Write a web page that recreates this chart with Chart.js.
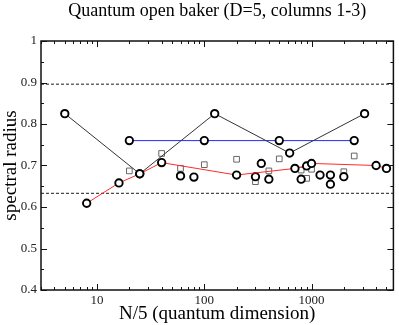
<!DOCTYPE html>
<html lang="en">
<head>
    <meta charset="UTF-8">
    <title>Quantum open baker</title>
    <script src="https://cdn.jsdelivr.net/npm/chart.js"></script>
    <style>
        html, body { margin: 0; padding: 0; background: #fff; }
        .wrap { width: 399px; height: 325px; }
    </style>
</head>
<body>
<div class="wrap">
    <canvas id="chart" width="399" height="325"></canvas>
</div>
<script>
    // N/5 values and spectral radius
    const blackX = [5, 25, 125, 625, 3125];
    const blackY = [0.825, 0.68, 0.825, 0.73, 0.825];

    const blueX = [20, 100, 500, 2500];
    const blueY = [0.76, 0.76, 0.76, 0.76];

    const redX = [8, 16, 25, 40, 200, 700, 900, 1000, 4000, 5000];
    const redY = [0.609, 0.658, 0.68, 0.707, 0.677, 0.693, 0.699, 0.705, 0.70, 0.693];

    const dotX = [60, 80, 300, 340, 400, 800, 1200, 1500, 1500, 2000];
    const dotY = [0.675, 0.672, 0.673, 0.705, 0.667, 0.667, 0.677, 0.677, 0.655, 0.673];

    const squareX = [20, 40, 60, 100, 200, 300, 400, 500, 800, 900, 1000, 2000, 2500];
    const squareY = [0.687, 0.729, 0.693, 0.702, 0.715, 0.661, 0.687, 0.716, 0.689, 0.669, 0.691, 0.685, 0.723];

    const dashLevels = [0.896, 0.633];
    const xRange = [3, 5800];
    const yRange = [0.4, 1];
    const xLabels = [10, 100, 1000];

    const serif = "'Liberation Serif', 'DejaVu Serif', serif";

    function pts(xs, ys) {
        return xs.map((x, i) => ({ x: x, y: ys[i] }));
    }

    const circle = {
        pointStyle: 'circle',
        pointRadius: 3.7,
        pointBorderWidth: 1.9,
        pointBorderColor: '#000',
        pointBackgroundColor: '#fff',
        pointHoverRadius: 3.7
    };

    // 안쪽으로 향한 눈금과 테두리, 제목
    const frameTicks = {
        id: 'frameTicks',
        afterDraw(chart) {
            const ctx = chart.ctx;
            const a = chart.chartArea;
            const xs = chart.scales.x;
            const ys = chart.scales.y;
            ctx.save();
            ctx.strokeStyle = '#111';
            ctx.lineWidth = 1;
            ctx.beginPath();
            for (let k = 0; k <= 12; k++) {
                const v = yRange[0] + k * 0.05;
                const py = Math.round(ys.getPixelForValue(v)) + 0.5;
                const len = k % 2 === 0 ? 6 : 3;
                ctx.moveTo(a.left, py); ctx.lineTo(a.left + len, py);
                ctx.moveTo(a.right, py); ctx.lineTo(a.right - len, py);
            }
            for (let d = 1; d <= 1000; d *= 10) {
                for (let m = 1; m <= 9; m++) {
                    const v = m * d;
                    if (v < xRange[0] || v > xRange[1]) continue;
                    const px = Math.round(xs.getPixelForValue(v)) + 0.5;
                    const len = m === 1 ? 6 : 3;
                    ctx.moveTo(px, a.bottom); ctx.lineTo(px, a.bottom - len);
                    ctx.moveTo(px, a.top); ctx.lineTo(px, a.top + len);
                }
            }
            ctx.stroke();
            ctx.lineWidth = 1.5;
            ctx.strokeRect(a.left, a.top, a.right - a.left, a.bottom - a.top);

            ctx.fillStyle = '#000';
            ctx.font = '18px ' + serif;
            ctx.textAlign = 'center';
            ctx.textBaseline = 'middle';
            ctx.fillText('Quantum open baker (D=5, columns 1-3)', (a.left + a.right) / 2, 11);
            ctx.restore();
        }
    };

    new Chart(document.getElementById('chart'), {
        type: 'scatter',
        data: {
            datasets: [
                Object.assign({ data: pts(blackX, blackY), showLine: true, borderColor: '#333', borderWidth: 1 }, circle),
                Object.assign({ data: pts(blueX, blueY), showLine: true, borderColor: '#2828ff', borderWidth: 1 }, circle),
                Object.assign({ data: pts(redX, redY), showLine: true, borderColor: '#ff2b2b', borderWidth: 1 }, circle),
                Object.assign({ data: pts(dotX, dotY), showLine: false }, circle),
                {
                    data: pts(squareX, squareY),
                    showLine: false,
                    pointStyle: 'rect',
                    pointRadius: 4,
                    pointBorderWidth: 1,
                    pointBorderColor: '#666',
                    pointBackgroundColor: 'rgba(0,0,0,0)'
                },
                {
                    data: pts(xRange, [dashLevels[0], dashLevels[0]]),
                    showLine: true, pointRadius: 0, borderColor: '#000', borderWidth: 0.9, borderDash: [3, 2]
                },
                {
                    data: pts(xRange, [dashLevels[1], dashLevels[1]]),
                    showLine: true, pointRadius: 0, borderColor: '#000', borderWidth: 0.9, borderDash: [3, 2]
                }
            ]
        },
        options: {
            responsive: false,
            animation: false,
            layout: { padding: { top: 41, right: 0, left: 0, bottom: 0 } },
            plugins: {
                legend: { display: false },
                tooltip: { enabled: false },
                title: { display: false }
            },
            scales: {
                x: {
                    type: 'logarithmic',
                    min: xRange[0],
                    max: xRange[1],
                    grid: { display: false, drawTicks: false },
                    border: { display: false },
                    afterFit: s => { s.height = 35; s.paddingLeft = 0; s.paddingRight = 0; },
                    afterBuildTicks: s => { s.ticks = xLabels.map(v => ({ value: v })); },
                    ticks: {
                        autoSkip: false,
                        maxRotation: 0,
                        padding: 3,
                        color: '#222',
                        font: { family: serif, size: 13 },
                        callback: v => String(v)
                    },
                    title: {
                        display: true,
                        text: 'N/5 (quantum dimension)',
                        color: '#000',
                        font: { family: serif, size: 19 },
                        padding: { top: 0, bottom: 0 }
                    }
                },
                y: {
                    min: yRange[0],
                    max: yRange[1],
                    grid: { display: false, drawTicks: false },
                    border: { display: false },
                    afterFit: s => { s.width = 41; s.paddingTop = 0; s.paddingBottom = 0; },
                    ticks: {
                        stepSize: 0.1,
                        padding: 4,
                        color: '#222',
                        font: { family: serif, size: 13 },
                        callback: v => String(Math.round(v * 10) / 10)
                    },
                    title: {
                        display: true,
                        text: 'spectral radius',
                        color: '#000',
                        font: { family: serif, size: 19 },
                        padding: { top: 0, bottom: 0 }
                    }
                }
            }
        },
        plugins: [frameTicks]
    });
</script>
</body>
</html>
